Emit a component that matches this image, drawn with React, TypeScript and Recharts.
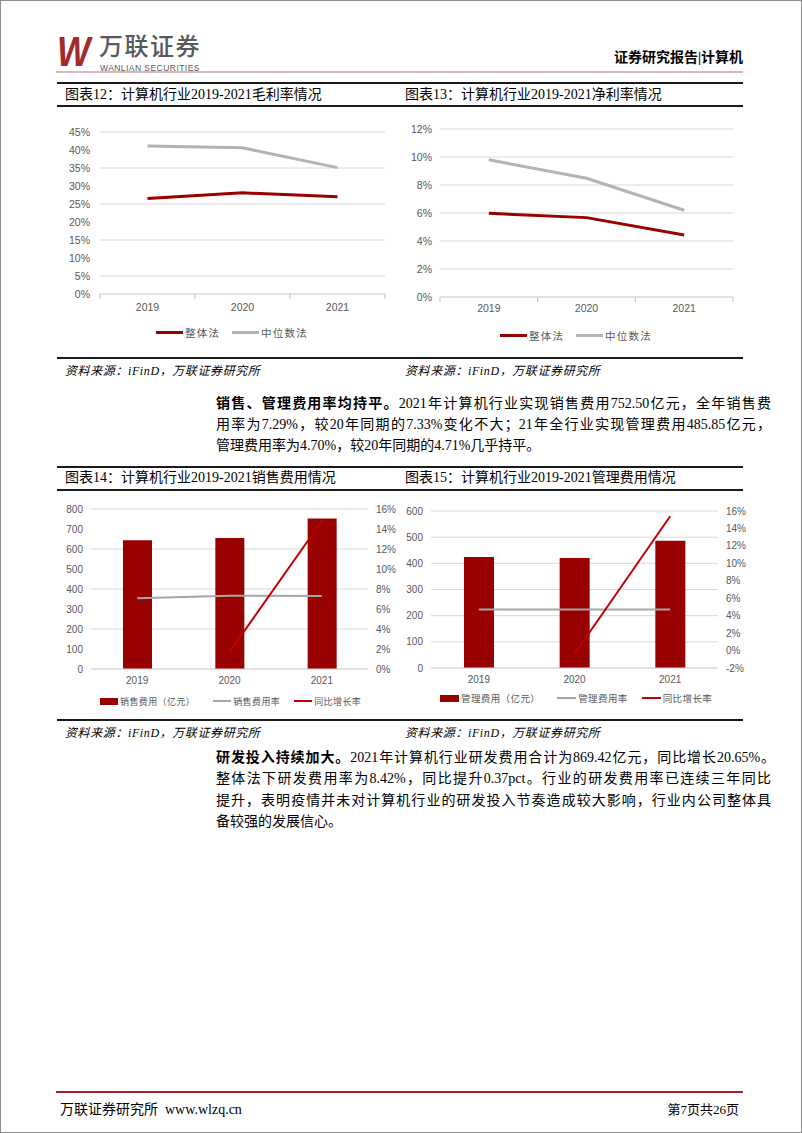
import React from 'react';
import { ComposedChart, Line, Bar, XAxis, YAxis, CartesianGrid, Legend } from 'recharts';

// ---------- data ----------
const years = ['2019', '2020', '2021'];
const grossOverall = [26.5, 28.1, 27.0];
const grossMedian = [41.1, 40.6, 35.1];
const netOverall = [5.98, 5.67, 4.43];
const netMedian = [9.8, 8.48, 6.2];
const salesExpense = [644, 655, 752.5];
const salesRate = [7.08, 7.33, 7.29];
const salesYoy: (number | null)[] = [null, 1.7, 14.8];
const adminExpense = [424, 420, 485.85];
const adminRate = [4.72, 4.71, 4.7];
const adminYoy: (number | null)[] = [null, -0.4, 15.4];

const ticksGross = [0, 5, 10, 15, 20, 25, 30, 35, 40, 45];
const ticksNet = [0, 2, 4, 6, 8, 10, 12];
const ticksSales = [0, 100, 200, 300, 400, 500, 600, 700, 800];
const ticksSalesPct = [0, 2, 4, 6, 8, 10, 12, 14, 16];
const ticksAdmin = [0, 100, 200, 300, 400, 500, 600];
const ticksAdminPct = [-2, 0, 2, 4, 6, 8, 10, 12, 14, 16];

const data12 = years.map((y, i) => ({ year: y, overall: grossOverall[i], median: grossMedian[i] }));
const data13 = years.map((y, i) => ({ year: y, overall: netOverall[i], median: netMedian[i] }));
const data14 = years.map((y, i) => ({ year: y, amt: salesExpense[i], rate: salesRate[i], yoy: salesYoy[i] }));
const data15 = years.map((y, i) => ({ year: y, amt: adminExpense[i], rate: adminRate[i], yoy: adminYoy[i] }));

// ---------- style ----------
const SERIF = '"Liberation Serif", "Noto Sans CJK SC", serif';
const AXIS_FONT = '"Liberation Sans", Arial, sans-serif';
const CJK = '"Noto Sans CJK SC", sans-serif';
const DARK_RED = '#990000';
const RED = '#c00000';
const GREY_LINE = '#b3b3b3';
const GRID = '#d9d9d9';
const TICK = '#595959';

const pct = (v: number) => `${v}%`;

// category tick with Excel-like boundary marks between categories,
// band size derived from the positions the axis gives to consecutive ticks
function makeBoundaryTick(gap: number, fontSize: number) {
  const seen: number[] = [];
  return (props: any) => {
    const { x, y, payload, index, visibleTicksCount } = props;
    seen[index] = x;
    const ay = y - gap;
    const marks: number[] = [];
    if (index > 0 && typeof seen[index - 1] === 'number') {
      const band = x - seen[index - 1];
      marks.push(x - band / 2);
      if (index === 1) marks.push(seen[0] - band / 2);
      if (index === visibleTicksCount - 1) marks.push(x + band / 2);
    }
    return (
      <g>
        {marks.map((m, k) => (
          <line key={k} x1={m} x2={m} y1={ay} y2={ay + 5} stroke="#bfbfbf" />
        ))}
        <text x={x} y={y} dy="0.71em" textAnchor="middle" fill={TICK} fontSize={fontSize} fontFamily={AXIS_FONT}>
          {payload.value}
        </text>
      </g>
    );
  };
}

type LItem = { label: string; kind: 'line' | 'rect'; color: string; w: number; h: number; gap: number };
function makeLegend(items: LItem[], padLeft: number, fontSize: number, spacing: number) {
  return () => (
    <div
      style={{
        height: 24,
        display: 'flex',
        alignItems: 'center',
        paddingLeft: padLeft,
        fontFamily: CJK,
        fontSize,
        color: TICK,
        whiteSpace: 'nowrap',
        boxSizing: 'border-box',
      }}
    >
      {items.map((it) => (
        <div key={it.label} style={{ display: 'flex', alignItems: 'center', marginRight: it.gap }}>
          <div style={{ width: it.w, height: it.h, background: it.color, marginRight: 2 }} />
          <span style={{ letterSpacing: spacing }}>{it.label}</span>
        </div>
      ))}
    </div>
  );
}

const legend12 = makeLegend(
  [
    { label: '整体法', kind: 'line', color: DARK_RED, w: 27, h: 3, gap: 12 },
    { label: '中位数法', kind: 'line', color: GREY_LINE, w: 27, h: 3, gap: 0 },
  ],
  126,
  10.5,
  1.2
);
const legend13 = makeLegend(
  [
    { label: '整体法', kind: 'line', color: DARK_RED, w: 27, h: 3, gap: 12 },
    { label: '中位数法', kind: 'line', color: GREY_LINE, w: 27, h: 3, gap: 0 },
  ],
  100,
  10.5,
  1.2
);
const legend14 = makeLegend(
  [
    { label: '销售费用（亿元）', kind: 'rect', color: DARK_RED, w: 18, h: 7, gap: 18 },
    { label: '销售费用率', kind: 'line', color: '#a6a6a6', w: 18, h: 2, gap: 14 },
    { label: '同比增长率', kind: 'line', color: RED, w: 18, h: 2, gap: 0 },
  ],
  70,
  9,
  0.4
);
const legend15 = makeLegend(
  [
    { label: '管理费用（亿元）', kind: 'rect', color: DARK_RED, w: 19, h: 7, gap: 17 },
    { label: '管理费用率', kind: 'line', color: '#a6a6a6', w: 19, h: 2, gap: 14 },
    { label: '同比增长率', kind: 'line', color: RED, w: 19, h: 2, gap: 0 },
  ],
  40,
  9.5,
  0.4
);

const abs = (left: number, top: number, extra: React.CSSProperties = {}): React.CSSProperties => ({
  position: 'absolute',
  left,
  top,
  whiteSpace: 'nowrap',
  ...extra,
});

function HLine({ y, x1 = 57, x2 = 743, h = 2, color = '#1a1a1a' }: { y: number; x1?: number; x2?: number; h?: number; color?: string }) {
  return <div style={{ position: 'absolute', left: x1, top: y - h / 2, width: x2 - x1, height: h, background: color }} />;
}

function Txt({ x, cy, size, children, style }: { x: number; cy: number; size: number; children: React.ReactNode; style?: React.CSSProperties }) {
  const lh = size * 1.4;
  return <div style={abs(x, cy - lh / 2, { fontSize: size, lineHeight: `${lh}px`, fontFamily: SERIF, color: '#000', ...style })}>{children}</div>;
}

function JLine({ x, cy, width, children, last }: { x: number; cy: number; width: number; children: React.ReactNode; last?: boolean }) {
  return (
    <div
      style={{
        position: 'absolute',
        left: x,
        top: cy - 10.5,
        width,
        height: 21,
        lineHeight: '21px',
        fontSize: 14,
        fontFamily: SERIF,
        color: '#000',
        textAlign: 'justify',
        textAlignLast: last ? 'left' : 'justify',
        whiteSpace: 'nowrap',
        overflow: 'visible',
      }}
    >
      {children}
    </div>
  );
}

const axisTickStyle = { fill: TICK, fontSize: 10, fontFamily: AXIS_FONT };

export default function App() {
  return (
    <div style={{ position: 'absolute', left: 0, top: 0, width: 802, height: 1133, background: '#fff', overflow: 'hidden' }}>
      {/* page border */}
      <div style={{ position: 'absolute', left: 0, top: 0, width: 802, height: 1133, boxSizing: 'border-box', border: '1px solid #8c8c8c' }} />

      {/* header */}
      <div
        style={abs(57, 29, {
          fontFamily: AXIS_FONT,
          fontWeight: 700,
          fontStyle: 'italic',
          fontSize: 43,
          lineHeight: '44px',
          color: '#a3292c',
          transform: 'scaleX(0.82)',
          transformOrigin: 'left top',
          letterSpacing: -3,
        })}
      >
        W
      </div>
      <div style={abs(99, 31, { fontFamily: CJK, fontSize: 24, lineHeight: '28px', color: '#58595b', fontWeight: 500, letterSpacing: 1.5 })}>
        万联证券
      </div>
      <div style={abs(100, 63.5, { fontFamily: AXIS_FONT, fontSize: 8.5, lineHeight: '9px', color: '#58595b', letterSpacing: 0.45 })}>
        WANLIAN SECURITIES
      </div>
      <div style={abs(0, 48, { width: 743, textAlign: 'right', fontFamily: SERIF, fontSize: 14, lineHeight: '20px', fontWeight: 700, color: '#000' })}>
        证券研究报告|计算机
      </div>
      <HLine y={71.5} x1={56} x2={743} h={2} color="#dcb6bb" />

      {/* section 1 */}
      <HLine y={83} />
      <HLine y={106} />
      <HLine y={358} />
      <Txt x={65} cy={95} size={14}>图表12：计算机行业2019-2021毛利率情况</Txt>
      <Txt x={405} cy={95} size={14}>图表13：计算机行业2019-2021净利率情况</Txt>

      <div style={{ position: 'absolute', left: 30, top: 110 }}>
        <ComposedChart width={370} height={240} data={data12} margin={{ top: 22, right: 15, bottom: 6, left: 20 }}>
          <CartesianGrid vertical={false} stroke={GRID} />
          <XAxis
            dataKey="year"
            scale="band"
            height={26}
            tickLine={false}
            tickSize={6}
            tickMargin={4}
            axisLine={{ stroke: GRID }}
            tick={makeBoundaryTick(10, 10.5)}
          />
          <YAxis
            width={50}
            domain={[0, 45]}
            ticks={ticksGross}
            tickFormatter={pct}
            axisLine={false}
            tickLine={false}
            tickMargin={4}
            tick={{ ...axisTickStyle, fontSize: 10.5 }}
          />
          <Legend verticalAlign="bottom" content={legend12} wrapperStyle={{ left: 0, width: 370 }} />
          <Line dataKey="overall" name="整体法" stroke={DARK_RED} strokeWidth={3} dot={false} isAnimationActive={false} />
          <Line dataKey="median" name="中位数法" stroke={GREY_LINE} strokeWidth={3} dot={false} isAnimationActive={false} />
        </ComposedChart>
      </div>

      <div style={{ position: 'absolute', left: 400, top: 105 }}>
        <ComposedChart width={350} height={250} data={data13} margin={{ top: 24, right: 17, bottom: 8, left: 10 }}>
          <CartesianGrid vertical={false} stroke={GRID} />
          <XAxis
            dataKey="year"
            scale="band"
            height={26}
            tickLine={false}
            tickSize={6}
            tickMargin={2}
            axisLine={{ stroke: GRID }}
            tick={makeBoundaryTick(8, 10.5)}
          />
          <YAxis
            width={30}
            domain={[0, 12]}
            ticks={ticksNet}
            tickFormatter={pct}
            axisLine={false}
            tickLine={false}
            tick={{ ...axisTickStyle, fontSize: 10.5 }}
          />
          <Legend verticalAlign="bottom" content={legend13} wrapperStyle={{ left: 0, width: 350 }} />
          <Line dataKey="overall" name="整体法" stroke={DARK_RED} strokeWidth={3} dot={false} isAnimationActive={false} />
          <Line dataKey="median" name="中位数法" stroke={GREY_LINE} strokeWidth={3} dot={false} isAnimationActive={false} />
        </ComposedChart>
      </div>

      <Txt x={65} cy={371} size={12} style={{ fontStyle: 'italic', letterSpacing: 0.6 }}>资料来源：iFinD，万联证券研究所</Txt>
      <Txt x={405} cy={371} size={12} style={{ fontStyle: 'italic', letterSpacing: 0.6 }}>资料来源：iFinD，万联证券研究所</Txt>

      {/* paragraph 1 */}
      <JLine x={216} cy={403} width={555}>
        <b>销售、管理费用率均持平。</b>2021年计算机行业实现销售费用752.50亿元，全年销售费
      </JLine>
      <JLine x={216} cy={424} width={555}>
        用率为7.29%，较20年同期的7.33%变化不大；21年全行业实现管理费用485.85亿元，
      </JLine>
      <JLine x={216} cy={445.5} width={555} last>
        管理费用率为4.70%，较20年同期的4.71%几乎持平。
      </JLine>

      {/* section 2 */}
      <HLine y={467} />
      <HLine y={490} />
      <HLine y={720} />
      <Txt x={65} cy={478} size={14}>图表14：计算机行业2019-2021销售费用情况</Txt>
      <Txt x={405} cy={478} size={14}>图表15：计算机行业2019-2021管理费用情况</Txt>

      <div style={{ position: 'absolute', left: 30, top: 495 }}>
        <ComposedChart width={370} height={223} data={data14} margin={{ top: 14, right: 2, bottom: 5, left: 21 }}>
          <CartesianGrid vertical={false} stroke={GRID} />
          <XAxis dataKey="year" height={20} tickLine={false} axisLine={{ stroke: GRID }} tick={axisTickStyle} />
          <YAxis width={40} domain={[0, 800]} ticks={ticksSales} axisLine={false} tickLine={false} tick={axisTickStyle} />
          <YAxis
            yAxisId="right"
            orientation="right"
            width={30}
            domain={[0, 16]}
            ticks={ticksSalesPct}
            tickFormatter={pct}
            axisLine={false}
            tickLine={false}
            tick={axisTickStyle}
          />
          <Legend verticalAlign="bottom" content={legend14} wrapperStyle={{ left: 0, width: 370 }} />
          <Bar dataKey="amt" name="销售费用（亿元）" fill={DARK_RED} barSize={29} isAnimationActive={false} />
          <Line yAxisId="right" dataKey="rate" name="销售费用率" stroke="#a6a6a6" strokeWidth={2} dot={false} isAnimationActive={false} />
          <Line yAxisId="right" dataKey="yoy" name="同比增长率" stroke={RED} strokeWidth={2} dot={false} isAnimationActive={false} />
        </ComposedChart>
      </div>

      <div style={{ position: 'absolute', left: 400, top: 495 }}>
        <ComposedChart width={350} height={220} data={data15} margin={{ top: 16, right: 2, bottom: 5, left: 6 }}>
          <CartesianGrid vertical={false} stroke={GRID} />
          <XAxis dataKey="year" height={18} tickLine={false} axisLine={{ stroke: GRID }} tick={axisTickStyle} />
          <YAxis width={25} domain={[0, 600]} ticks={ticksAdmin} axisLine={false} tickLine={false} tick={axisTickStyle} />
          <YAxis
            yAxisId="right"
            orientation="right"
            width={30}
            domain={[-2, 16]}
            ticks={ticksAdminPct}
            tickFormatter={pct}
            axisLine={false}
            tickLine={false}
            tick={axisTickStyle}
          />
          <Legend verticalAlign="bottom" content={legend15} wrapperStyle={{ left: 0, width: 350 }} />
          <Bar dataKey="amt" name="管理费用（亿元）" fill={DARK_RED} barSize={30} isAnimationActive={false} />
          <Line yAxisId="right" dataKey="rate" name="管理费用率" stroke="#a6a6a6" strokeWidth={2} dot={false} isAnimationActive={false} />
          <Line yAxisId="right" dataKey="yoy" name="同比增长率" stroke={RED} strokeWidth={2} dot={false} isAnimationActive={false} />
        </ComposedChart>
      </div>

      <Txt x={65} cy={733} size={12} style={{ fontStyle: 'italic', letterSpacing: 0.6 }}>资料来源：iFinD，万联证券研究所</Txt>
      <Txt x={405} cy={733} size={12} style={{ fontStyle: 'italic', letterSpacing: 0.6 }}>资料来源：iFinD，万联证券研究所</Txt>

      {/* paragraph 2 */}
      <JLine x={216} cy={757} width={559}>
        <b>研发投入持续加大。</b>2021年计算机行业研发费用合计为869.42亿元，同比增长20.65%。
      </JLine>
      <JLine x={216} cy={778.5} width={555}>
        整体法下研发费用率为8.42%，同比提升0.37pct。行业的研发费用率已连续三年同比
      </JLine>
      <JLine x={216} cy={800} width={555}>
        提升，表明疫情并未对计算机行业的研发投入节奏造成较大影响，行业内公司整体具
      </JLine>
      <JLine x={216} cy={821} width={555} last>
        备较强的发展信心。
      </JLine>

      {/* footer */}
      <HLine y={1092} x1={56} x2={743} h={2.5} color="#a0262b" />
      <Txt x={60} cy={1110} size={14}>
        万联证券研究所&nbsp;&nbsp;www.wlzq.cn
      </Txt>
      <div style={abs(0, 1101, { width: 739, textAlign: 'right', fontFamily: SERIF, fontSize: 13, lineHeight: '18px', color: '#000' })}>
        第7页共26页
      </div>
    </div>
  );
}
